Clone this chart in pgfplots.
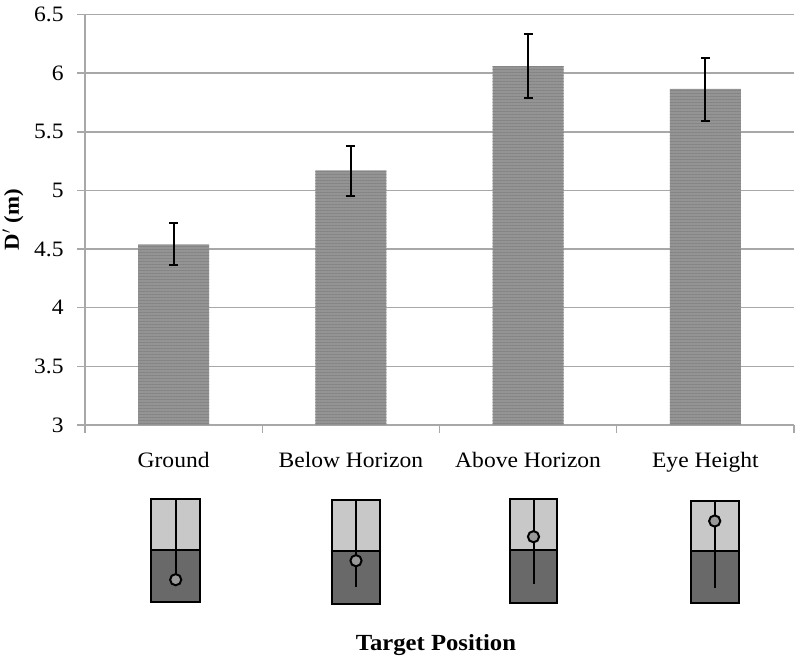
\documentclass[border=0pt]{standalone}
\usepackage{fontspec}
\setmainfont[FakeStretch=1.07]{Liberation Serif}
\usepackage{pgfplots}
\usepackage{pgfplotstable}
\usetikzlibrary{patterns.meta}
\pgfplotsset{compat=1.18}
\definecolor{axgray}{HTML}{A8A8A8}
\definecolor{barc}{HTML}{949494}
\definecolor{barl}{HTML}{848484}
\definecolor{skyc}{HTML}{C8C8C8}
\definecolor{gndc}{HTML}{696969}
\definecolor{dotc}{HTML}{999999}
\pgfplotstableread{
x y plus minus
0 4.54 0.18 0.18
1 5.17 0.21 0.22
2 6.06 0.27 0.27
3 5.865 0.265 0.27
}\means
\begin{document}
\begin{tikzpicture}[x=1pt,y=1pt]
\useasboundingbox (0,0) rectangle (600,498);
\begin{axis}[
  at={(63.75pt,179.25pt)}, anchor=south west,
  scale only axis, width=531.75pt, height=307.875pt,
  xmin=-0.5, xmax=3.5, ymin=3, ymax=6.5,
  axis x line=bottom, axis y line=left,
  axis line style={-, draw=axgray, line width=1.1pt},
  clip=false,
  ytick={3,3.5,4,4.5,5,5.5,6,6.5},
  ymajorgrids, grid style={draw=axgray, line width=1.1pt},
  xtick={0,1,2,3},
  xticklabels={Ground,Below Horizon,Above Horizon,Eye Height},
  minor xtick={-0.5,0.5,1.5,2.5,3.5},
  major x tick style={draw=none},
  minor x tick style={draw=axgray, line width=1pt},
  y tick style={draw=axgray, line width=1.1pt},
  tick align=outside, major tick length=6pt, minor tick length=6pt,
  /pgf/number format/assume math mode=true,
  ticklabel style={font=\fontsize{16.5}{18}\selectfont},
  yticklabel style={xshift=-6.5pt},
  xticklabel style={anchor=base, yshift=-26pt},
  xlabel={Target Position},
  ylabel={D$'$ (m)},
  xlabel style={at={(axis description cs:0.495,-0.536)}, anchor=center, font=\bfseries\fontsize{17.3}{19}\selectfont},
  ylabel style={at={(axis description cs:-0.1016,0.5)}, anchor=center, rotate=0, font=\bfseries\fontsize{16}{18}\selectfont},
]
\addplot[ybar, bar width=53.25pt, bar shift=0pt, fill=barc, draw=none,
  postaction={pattern={Lines[angle=0, distance=2.25pt, line width=0.75pt]}, pattern color=barl},
  error bars/.cd, y dir=both, y explicit,
  error bar style={draw=black, line width=1.6pt},
  error mark options={rotate=90, mark size=3.4pt, line width=1.5pt, draw=black}]
  table[x=x, y=y, y error plus=plus, y error minus=minus] {\means};
\end{axis}
\begin{axis}[
  at={(0pt,0pt)}, anchor=south west,
  scale only axis, width=600pt, height=498pt,
  xmin=0, xmax=800, ymin=0, ymax=664, y dir=reverse,
  hide axis, clip=false,
]
% position diagrams, in image pixels
\addplot[fill=skyc, draw=none] coordinates {(151.3,499) (200.3,499) (200.3,549.7) (151.3,549.7)} --cycle;
\addplot[fill=gndc, draw=none] coordinates {(151.3,549.7) (200.3,549.7) (200.3,602.3) (151.3,602.3)} --cycle;
\addplot[draw=black, line width=1.5pt] coordinates {(151.3,549.7) (200.3,549.7)};
\addplot[draw=black, line width=1.5pt] coordinates {(175.7,499) (175.7,579.7)};
\addplot[draw=black, line width=1.5pt] coordinates {(151.3,499) (200.3,499) (200.3,602.3) (151.3,602.3)} --cycle;
\addplot[only marks, mark=*, mark size=4.2pt, mark options={fill=dotc, draw=black, line width=1.5pt}] coordinates {(175.7,579.7)};

\addplot[fill=skyc, draw=none] coordinates {(331.7,500) (380,500) (380,550.7) (331.7,550.7)} --cycle;
\addplot[fill=gndc, draw=none] coordinates {(331.7,550.7) (380,550.7) (380,603.7) (331.7,603.7)} --cycle;
\addplot[draw=black, line width=1.5pt] coordinates {(331.7,550.7) (380,550.7)};
\addplot[draw=black, line width=1.5pt] coordinates {(356,500) (356,586.7)};
\addplot[draw=black, line width=1.5pt] coordinates {(331.7,500) (380,500) (380,603.7) (331.7,603.7)} --cycle;
\addplot[only marks, mark=*, mark size=4.2pt, mark options={fill=dotc, draw=black, line width=1.5pt}] coordinates {(356,560.7)};

\addplot[fill=skyc, draw=none] coordinates {(510,499) (556.7,499) (556.7,550) (510,550)} --cycle;
\addplot[fill=gndc, draw=none] coordinates {(510,550) (556.7,550) (556.7,602.7) (510,602.7)} --cycle;
\addplot[draw=black, line width=1.5pt] coordinates {(510,550) (556.7,550)};
\addplot[draw=black, line width=1.5pt] coordinates {(533.5,499) (533.5,584)};
\addplot[draw=black, line width=1.5pt] coordinates {(510,499) (556.7,499) (556.7,602.7) (510,602.7)} --cycle;
\addplot[only marks, mark=*, mark size=4.2pt, mark options={fill=dotc, draw=black, line width=1.5pt}] coordinates {(533.5,536.7)};

\addplot[fill=skyc, draw=none] coordinates {(690.7,500.7) (738.7,500.7) (738.7,551.3) (690.7,551.3)} --cycle;
\addplot[fill=gndc, draw=none] coordinates {(690.7,551.3) (738.7,551.3) (738.7,603.3) (690.7,603.3)} --cycle;
\addplot[draw=black, line width=1.5pt] coordinates {(690.7,551.3) (738.7,551.3)};
\addplot[draw=black, line width=1.5pt] coordinates {(714.7,500.7) (714.7,588)};
\addplot[draw=black, line width=1.5pt] coordinates {(690.7,500.7) (738.7,500.7) (738.7,603.3) (690.7,603.3)} --cycle;
\addplot[only marks, mark=*, mark size=4.2pt, mark options={fill=dotc, draw=black, line width=1.5pt}] coordinates {(714.7,521)};
\end{axis}
\end{tikzpicture}
\end{document}
